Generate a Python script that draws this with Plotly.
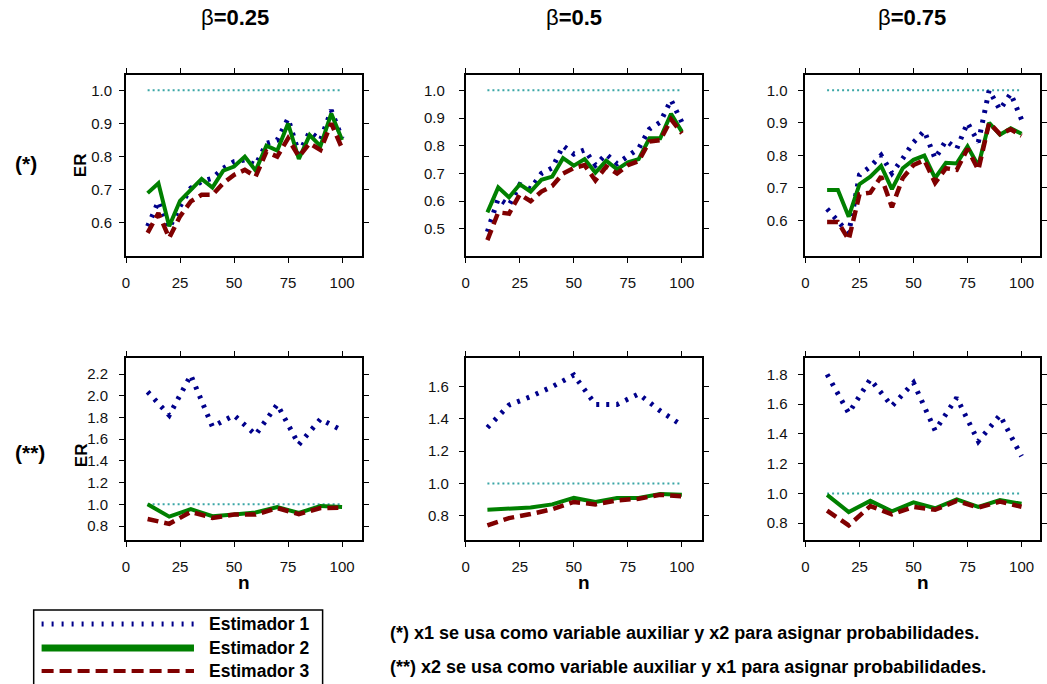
import plotly.graph_objects as go

W, H = 1047, 684

# ---------------- data ----------------
n_top = [10, 15, 20, 25, 30, 35, 40, 45, 50, 55, 60, 65, 70, 75, 80, 85, 90, 95, 100]
n_bot = [10, 20, 30, 40, 50, 60, 70, 80, 90, 100]

# (*) beta = 0.25
p1_e1 = [0.59, 0.665, 0.585, 0.65, 0.705, 0.725, 0.735, 0.765, 0.785, 0.79, 0.775, 0.84, 0.85, 0.915, 0.81, 0.875, 0.85, 0.94, 0.855]
p1_e2 = [0.69, 0.72, 0.59, 0.667, 0.70, 0.733, 0.707, 0.758, 0.77, 0.80, 0.758, 0.833, 0.818, 0.90, 0.793, 0.865, 0.832, 0.93, 0.85]
p1_e3 = [0.57, 0.63, 0.555, 0.62, 0.665, 0.685, 0.685, 0.72, 0.745, 0.76, 0.74, 0.815, 0.80, 0.855, 0.80, 0.84, 0.82, 0.90, 0.825]
# (*) beta = 0.5
p2_e1 = [0.49, 0.61, 0.585, 0.66, 0.645, 0.70, 0.72, 0.80, 0.77, 0.785, 0.73, 0.77, 0.735, 0.76, 0.79, 0.86, 0.885, 0.965, 0.885]
p2_e2 = [0.56, 0.65, 0.614, 0.661, 0.635, 0.677, 0.689, 0.755, 0.728, 0.752, 0.703, 0.746, 0.715, 0.74, 0.752, 0.827, 0.827, 0.915, 0.851]
p2_e3 = [0.46, 0.56, 0.555, 0.625, 0.60, 0.635, 0.655, 0.70, 0.72, 0.73, 0.675, 0.725, 0.70, 0.73, 0.745, 0.815, 0.82, 0.895, 0.845]
# (*) beta = 0.75
p3_e1 = [0.635, 0.60, 0.56, 0.74, 0.765, 0.80, 0.745, 0.79, 0.84, 0.875, 0.79, 0.845, 0.82, 0.90, 0.84, 1.0, 0.94, 0.99, 0.91]
p3_e2 = [0.693, 0.693, 0.611, 0.711, 0.734, 0.767, 0.696, 0.76, 0.786, 0.799, 0.73, 0.777, 0.775, 0.827, 0.768, 0.90, 0.863, 0.883, 0.866]
p3_e3 = [0.595, 0.595, 0.54, 0.68, 0.685, 0.735, 0.64, 0.73, 0.77, 0.785, 0.715, 0.76, 0.755, 0.82, 0.755, 0.90, 0.865, 0.88, 0.86]
# (**) beta = 0.25
p4_e1 = [2.037, 1.82, 2.19, 1.715, 1.82, 1.64, 1.92, 1.55, 1.785, 1.68]
p4_e2 = [1.0, 0.886, 0.955, 0.89, 0.905, 0.925, 0.975, 0.92, 0.985, 0.975]
p4_e3 = [0.865, 0.82, 0.93, 0.875, 0.905, 0.905, 0.965, 0.91, 0.965, 0.97]
# (**) beta = 0.5
p5_e1 = [1.346, 1.486, 1.538, 1.60, 1.672, 1.49, 1.49, 1.555, 1.45, 1.36]
p5_e2 = [0.837, 0.842, 0.85, 0.87, 0.91, 0.885, 0.91, 0.91, 0.935, 0.93]
p5_e3 = [0.74, 0.785, 0.81, 0.84, 0.885, 0.87, 0.895, 0.905, 0.93, 0.92]
# (**) beta = 0.75
p6_e1 = [1.80, 1.54, 1.767, 1.587, 1.744, 1.423, 1.643, 1.35, 1.526, 1.25]
p6_e2 = [0.99, 0.875, 0.95, 0.88, 0.94, 0.90, 0.96, 0.91, 0.955, 0.93]
p6_e3 = [0.885, 0.785, 0.915, 0.86, 0.91, 0.89, 0.95, 0.905, 0.945, 0.91]

ref_x = [10, 100]
ref_y = [1.0, 1.0]

x_ticks = [0, 25, 50, 75, 100]
y_ticks = [
    [0.6, 0.7, 0.8, 0.9, 1.0],
    [0.5, 0.6, 0.7, 0.8, 0.9, 1.0],
    [0.6, 0.7, 0.8, 0.9, 1.0],
    [0.8, 1.0, 1.2, 1.4, 1.6, 1.8, 2.0, 2.2],
    [0.8, 1.0, 1.2, 1.4, 1.6],
    [0.8, 1.0, 1.2, 1.4, 1.6, 1.8],
]
col_titles = ["β=0.25", "β=0.5", "β=0.75"]
series_names = ["Estimador 1", "Estimador 2", "Estimador 3"]
note_1 = "(*) x1 se usa como variable auxiliar y x2 para asignar probabilidades."
note_2 = "(**) x2 se usa como variable auxiliar y x1 para asignar probabilidades."

panels = [
    (n_top, p1_e1, p1_e2, p1_e3),
    (n_top, p2_e1, p2_e2, p2_e3),
    (n_top, p3_e1, p3_e2, p3_e3),
    (n_bot, p4_e1, p4_e2, p4_e3),
    (n_bot, p5_e1, p5_e2, p5_e3),
    (n_bot, p6_e1, p6_e2, p6_e3),
]

# ---------------- layout geometry (pixels) ----------------
FONT = "Arial, 'Liberation Sans', sans-serif"
C_BLUE = "#00008b"
C_GREEN = "#008000"
C_RED = "#800000"
C_TEAL = "#3aa6a6"

def px(x):
    return x / W

def py(y):
    return 1 - y / H

col_left = [123.3, 466.7, 810.0]
col_right = [361.7, 705.0, 1047.0]
x_scale = 2.1835  # px per unit of n
row_top = [75.0, 358.3]
row_bot = [255.7, 540.0]
y_ranges = [
    [0.5014, 1.0461],
    [0.4037, 1.0550],
    [0.4910, 1.0470],
    [0.6710, 2.3450],
    [0.6490, 1.7760],
    [0.6870, 1.9080],
]
y_standoff = [4, 11, 8, 8, 7, 8]

fig = go.Figure()
layout = {}
for i, (xs, e1, e2, e3) in enumerate(panels):
    r, c = divmod(i, 3)
    k = i + 1
    xa = "x" if k == 1 else f"x{k}"
    ya = "y" if k == 1 else f"y{k}"
    fig.add_trace(go.Scatter(x=ref_x, y=ref_y, mode="lines", xaxis=xa, yaxis=ya,
                             line=dict(color=C_TEAL, width=2, dash="2px,3px"),
                             showlegend=False, hoverinfo="skip"))
    fig.add_trace(go.Scatter(x=xs, y=e1, mode="lines", xaxis=xa, yaxis=ya, name=series_names[0],
                             line=dict(color=C_BLUE, width=5, dash="3px,7px"), showlegend=False))
    fig.add_trace(go.Scatter(x=xs, y=e2, mode="lines", xaxis=xa, yaxis=ya, name=series_names[1],
                             line=dict(color=C_GREEN, width=4), showlegend=False))
    fig.add_trace(go.Scatter(x=xs, y=e3, mode="lines", xaxis=xa, yaxis=ya, name=series_names[2],
                             line=dict(color=C_RED, width=4.5, dash="11px,6px"), showlegend=False))
    xr_end = (col_right[c] - col_left[c]) / x_scale
    axis_common = dict(showline=True, linewidth=2, linecolor="black", mirror="ticks",
                       ticks="outside", ticklen=5, tickwidth=1, tickcolor="black",
                       showgrid=False, zeroline=False, fixedrange=True,
                       tickfont=dict(family=FONT, size=15, color="#111"))
    layout["xaxis" if k == 1 else f"xaxis{k}"] = dict(
        axis_common, domain=[px(col_left[c]), px(col_right[c])], range=[0, xr_end],
        anchor=ya, tickvals=x_ticks, ticklabelstandoff=7)
    layout["yaxis" if k == 1 else f"yaxis{k}"] = dict(
        axis_common, domain=[py(row_bot[r]), py(row_top[r])], range=y_ranges[i],
        anchor=xa, tickvals=y_ticks[i], tickformat=".1f", ticklabelstandoff=y_standoff[i])

annotations = []
def ann(text, x, y, size, bold=True, angle=0, xanchor="center"):
    annotations.append(dict(text=f"<b>{text}</b>" if bold else text, x=px(x), y=py(y),
                            xref="paper", yref="paper", showarrow=False, textangle=angle,
                            xanchor=xanchor, yanchor="middle",
                            font=dict(family=FONT, size=size, color="black")))

for t, xc in zip(col_titles, [233, 576, 918]):
    sym, rest = t[0], t[1:]
    annotations.append(dict(text=f"{sym}<b>{rest}</b>", x=px(xc), y=py(18), xref="paper", yref="paper",
                            showarrow=False, xanchor="center", yanchor="middle",
                            font=dict(family=FONT, size=22, color="black")))
ann("(*)", 22, 163, 21)
ann("(**)", 26, 453, 21)
ann("ER", 78, 165, 17, angle=-90)
ann("ER", 78, 455, 17, angle=-90)
for xc in [242.5, 585.8, 929.0]:
    ann("n", xc, 582, 19)
ann(note_1, 388, 633, 18, xanchor="left")
ann(note_2, 388, 667, 18, xanchor="left")

# legend (drawn manually)
shapes = [dict(type="rect", xref="paper", yref="paper", x0=px(30), x1=px(322), y0=py(700), y1=py(610),
               line=dict(color="black", width=1.5), fillcolor="rgba(0,0,0,0)")]
leg_y = [624, 648, 671]
leg_styles = [dict(color=C_BLUE, width=5, dash="2px,8px"),
              dict(color=C_GREEN, width=7),
              dict(color=C_RED, width=4, dash="12px,6px")]
for name, yy, st in zip(series_names, leg_y, leg_styles):
    shapes.append(dict(type="line", xref="paper", yref="paper", x0=px(38), x1=px(192), y0=py(yy), y1=py(yy),
                       line=st))
    ann(name, 205, yy, 17.5, xanchor="left")

fig.update_layout(
    width=W, height=H, margin=dict(l=0, r=0, t=0, b=0),
    paper_bgcolor="white", plot_bgcolor="white",
    showlegend=False, annotations=annotations, shapes=shapes,
    font=dict(family=FONT), **layout)

fig.write_html("out.html", config={"displayModeBar": False})
